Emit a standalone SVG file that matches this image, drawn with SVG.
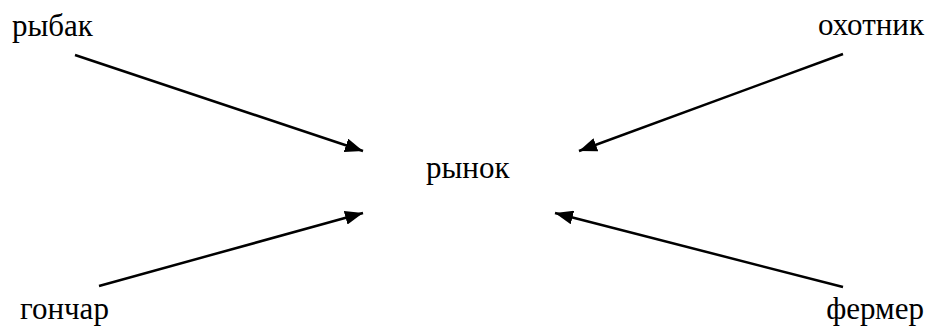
<svg xmlns="http://www.w3.org/2000/svg" width="927" height="327" viewBox="0 0 927 327">
  <style>
    .label { font-family: "Liberation Serif", "Times New Roman", serif; font-size: 31px; fill: #000; }
    .arrow { stroke: #000; stroke-width: 2.5; fill: none; marker-end: url(#head); }
  </style>
  <defs>
    <marker id="head" viewBox="0 0 18 14" refX="18" refY="7" markerWidth="18" markerHeight="14" markerUnits="userSpaceOnUse" orient="auto">
      <path d="M0,0 L18,7 L0,14 Z" fill="#000"/>
    </marker>
  </defs>
  <rect width="927" height="327" fill="#fff"/>

  <g id="fisher"><text class="label" x="12" y="36">рыбак</text></g>
  <g id="hunter"><text class="label" x="924" y="35" text-anchor="end">охотник</text></g>
  <g id="market"><text class="label" x="426" y="178">рынок</text></g>
  <g id="potter"><text class="label" x="20" y="319">гончар</text></g>
  <g id="farmer"><text class="label" x="924" y="319" text-anchor="end">фермер</text></g>

  <g id="connectors">
    <line class="arrow" x1="75" y1="55" x2="363" y2="151"/>
    <line class="arrow" x1="843" y1="54" x2="579" y2="151"/>
    <line class="arrow" x1="99" y1="286" x2="363" y2="213"/>
    <line class="arrow" x1="843" y1="287" x2="555" y2="213"/>
  </g>
</svg>
